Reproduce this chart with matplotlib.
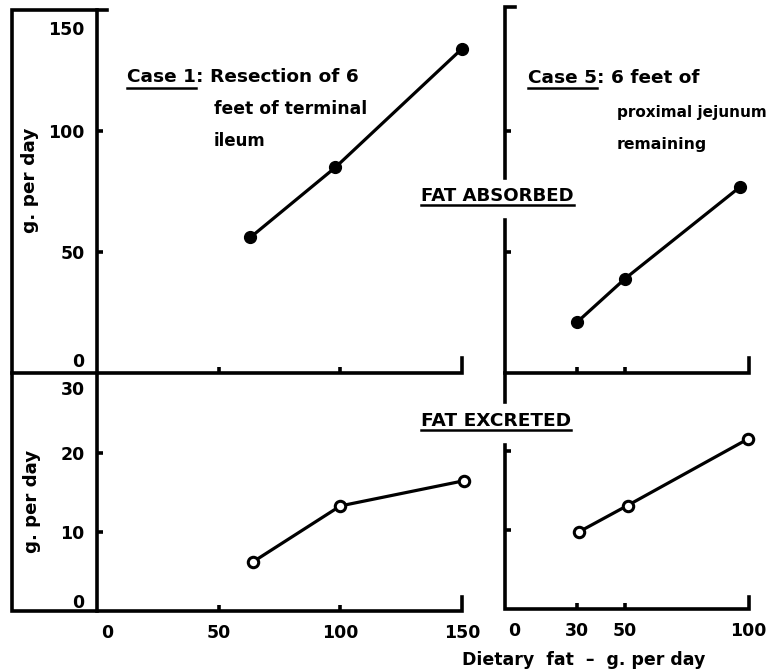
import matplotlib
matplotlib.use("Agg")
import matplotlib.pyplot as plt
from matplotlib.lines import Line2D

# ---------------- data ----------------
case1_abs_diet = [63, 98, 150]
case1_absorbed = [56, 85, 134]
case1_exc_diet = [64, 100, 151]
case1_excreted = [6.2, 13.3, 16.5]

case5_abs_diet = [30, 50, 98]
case5_absorbed = [21, 39, 77]
case5_exc_diet = [31, 51, 101]
case5_excreted = [9.8, 13.1, 21.5]

left_x_ticks = [50, 100]
left_x_labels = ["50", "100"]
right_x_ticks = [30, 50]
right_x_labels = ["30", "50"]
abs_y_ticks = [50, 100]
abs_y_labels = ["50", "100"]
exc_y_ticks = [10, 20]
exc_y_labels = ["10", "20"]

# ---------------- figure ----------------
W, H = 774, 672
plt.rcParams['font.family'] = ['DejaVu Sans']
fig = plt.figure(figsize=(W / 100, H / 100), dpi=100)
fig.patch.set_facecolor('white')

FS = 12.5
LW = 2.6


def px_axes(l, t, r, b):
    return fig.add_axes([l / W, 1 - b / H, (r - l) / W, (b - t) / H])


def pline(pts, lw=LW):
    xs = [p[0] / W for p in pts]
    ys = [1 - p[1] / H for p in pts]
    fig.add_artist(Line2D(xs, ys, transform=fig.transFigure, color='black',
                          lw=lw, solid_capstyle='projecting',
                          solid_joinstyle='miter'))


def ptext(x, y, s, **kw):
    kw.setdefault('fontsize', FS)
    kw.setdefault('fontweight', 'bold')
    kw.setdefault('va', 'center')
    kw.setdefault('ha', 'left')
    return fig.text(x / W, 1 - y / H, s, **kw)


ax_tl = px_axes(97, 10, 462, 373)
ax_bl = px_axes(97, 374, 462, 611)
ax_tr = px_axes(505, 10, 750, 373)
ax_br = px_axes(505, 372, 750, 609)

for ax in (ax_tl, ax_bl, ax_tr, ax_br):
    ax.set_facecolor('none')
    for s in ax.spines.values():
        s.set_visible(False)
    ax.tick_params(which='major', direction='in', length=4.5, width=2.6,
                   color='black', labelsize=FS, pad=9)
    ax.tick_params(which='minor', length=0, labelsize=FS, pad=9)

ax_tl.set_xlim(0, 150); ax_bl.set_xlim(0, 150)
ax_tr.set_xlim(0, 102); ax_br.set_xlim(0, 102)
ax_tl.set_ylim(0, 150); ax_tr.set_ylim(0, 150)
ax_bl.set_ylim(0, 30); ax_br.set_ylim(0, 30)

# top-left
ax_tl.set_xticks(left_x_ticks)
ax_tl.tick_params(axis='x', labelbottom=False)
ax_tl.set_yticks(abs_y_ticks, abs_y_labels, fontweight='bold')
ax_tl.set_yticks([5.4, 142.6], ["0", "150"], minor=True, fontweight='bold')

# bottom-left
ax_bl.set_xticks(left_x_ticks, left_x_labels, fontweight='bold')
ax_bl.set_xticks([4, 150], ["0", "150"], minor=True, fontweight='bold')
ax_bl.set_yticks(exc_y_ticks, exc_y_labels, fontweight='bold')
ax_bl.set_yticks([1.3, 28.2], ["0", "30"], minor=True, fontweight='bold')

# top-right
ax_tr.set_xticks(right_x_ticks)
ax_tr.tick_params(axis='x', labelbottom=False)
ax_tr.set_yticks(abs_y_ticks)
ax_tr.tick_params(axis='y', labelleft=False)

# bottom-right
ax_br.set_xticks(right_x_ticks, right_x_labels, fontweight='bold')
ax_br.set_xticks([4, 101.3], ["0", "100"], minor=True, fontweight='bold')
ax_br.set_yticks(exc_y_ticks)
ax_br.tick_params(axis='y', labelleft=False)

# data
filled = dict(color='black', lw=2.3, marker='o', ms=8.5, mfc='black',
              clip_on=False, zorder=5)
hollow = dict(color='black', lw=2.3, marker='o', ms=7.5, mfc='white',
              mew=2.2, clip_on=False, zorder=5)
ax_tl.plot(case1_abs_diet, case1_absorbed, **filled)
ax_tr.plot(case5_abs_diet, case5_absorbed, **filled)
ax_bl.plot(case1_exc_diet, case1_excreted, **hollow)
ax_br.plot(case5_exc_diet, case5_excreted, **hollow)

# frame / axis lines (figure pixels)
pline([(107, 10), (12, 10), (12, 611), (462, 611), (462, 597)])
pline([(12, 373), (462, 373), (462, 358)])
pline([(97, 10), (97, 611)])
pline([(515, 7), (505, 7), (505, 178)])
pline([(505, 220), (505, 402)])
pline([(505, 373), (749, 373), (749, 358)])
pline([(505, 445), (505, 609), (749, 609), (749, 597)])

# texts
g1 = ptext(30, 180, "g. per day", rotation=90, ha='center')
g2 = ptext(32, 501, "g. per day", rotation=90, ha='center')

t_c1 = ptext(127, 77, "Case 1")
t_c5 = ptext(528, 78, "Case 5")
t_fa = ptext(421, 196, "FAT ABSORBED")
t_fe = ptext(421, 421, "FAT EXCRETED")
t_l2 = ptext(214, 109, "feet of terminal")
t_l3 = ptext(214, 141, "ileum")
t_r2 = ptext(617, 113, "proximal jejunum")
t_r3 = ptext(617, 144, "remaining")
t_xl = ptext(462, 660, "Dietary  fat  \u2013  g. per day")

fig.canvas.draw()
r = fig.canvas.get_renderer()

LO, HI = 11.0, 13.3


def fit(t, target, vertical=False):
    bb = t.get_window_extent(r)
    cur = bb.height if vertical else bb.width
    size = t.get_fontsize() * target / cur
    t.set_fontsize(min(HI, max(LO, size)))


fit(g1, 108, vertical=True)
fit(g2, 103, vertical=True)
fit(t_c1, 73)
fit(t_c5, 75)
fit(t_fa, 154)
fit(t_fe, 152)
fit(t_l2, 153)
fit(t_l3, 52)
fit(t_r2, 146)
fit(t_r3, 90)
fit(t_xl, 243)

fig.canvas.draw()
r = fig.canvas.get_renderer()


def underline(t, y):
    bb = t.get_window_extent(r)
    pline([(bb.x0, y), (bb.x1, y)], lw=1.8)


s1 = ptext(t_c1.get_window_extent(r).x1, 77, ": Resection of 6")
s5 = ptext(t_c5.get_window_extent(r).x1, 78, ": 6 feet of")
fig.canvas.draw()
fit(s1, 370 - t_c1.get_window_extent(r).x1)
fit(s5, 707 - t_c5.get_window_extent(r).x1)

underline(t_c1, 88)
underline(t_c5, 88)
underline(t_fa, 205)
underline(t_fe, 430)

fig.savefig("out.png", dpi=100, facecolor='white')
